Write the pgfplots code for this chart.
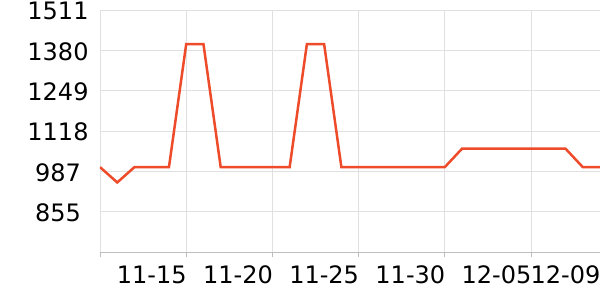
\documentclass[border=0pt]{standalone}
\usepackage{pgfplots}
\pgfplotsset{compat=1.18}
\usepackage{fontspec}
\setmainfont{DejaVu Sans}
\definecolor{linered}{RGB}{238,75,43}
\definecolor{gridgray}{RGB}{224,224,224}
\definecolor{axisgray}{RGB}{190,190,190}
\begin{document}
\begin{tikzpicture}
\begin{axis}[
  scale only axis,
  width=500pt, height=242pt,
  xmin=0, xmax=29,
  ymin=723.83, ymax=1511,
  axis lines*=left,
  axis line style={draw=axisgray, line width=0.8pt},
  xtick={3,8,13,18,23,27},
  xticklabels={11-15,11-20,11-25,11-30,12-05,12-09},
  xtick style={draw=none},
  extra x ticks={0,5,10,15,20,25},
  extra x tick labels={},
  extra x tick style={grid=major, tick align=outside, major tick length=5pt,
     xtick style={draw=axisgray, line width=0.8pt}},
  ytick={855.17,986.33,1117.5,1248.67,1379.83,1511},
  yticklabels={855,987,1118,1249,1380,1511},
  ytick style={draw=none},
  ymajorgrids,
  major grid style={draw=gridgray, line width=0.8pt},
  /pgf/number format/assume math mode=true,
  tick label style={font=\fontsize{24}{28}\selectfont},
  yticklabel style={anchor=center, xshift=-42pt, yshift=-1pt},
  xticklabel style={anchor=base, yshift=-31pt},
  clip=true,
]
\addplot[color=linered, line width=2.5pt, mark=none] coordinates {
(0,1000) (1,950) (2,1000) (3,1000) (4,1000) (5,1400) (6,1400) (7,1000)
(8,1000) (9,1000) (10,1000) (11,1000) (12,1400) (13,1400) (14,1000)
(15,1000) (16,1000) (17,1000) (18,1000) (19,1000) (20,1000) (21,1060)
(22,1060) (23,1060) (24,1060) (25,1060) (26,1060) (27,1060) (28,1000) (29,1000)
};
\end{axis}
\pgfresetboundingbox
\useasboundingbox (current axis.south west) ++(-100pt,-48pt) rectangle ++(600pt,300pt);
\end{tikzpicture}
\end{document}
